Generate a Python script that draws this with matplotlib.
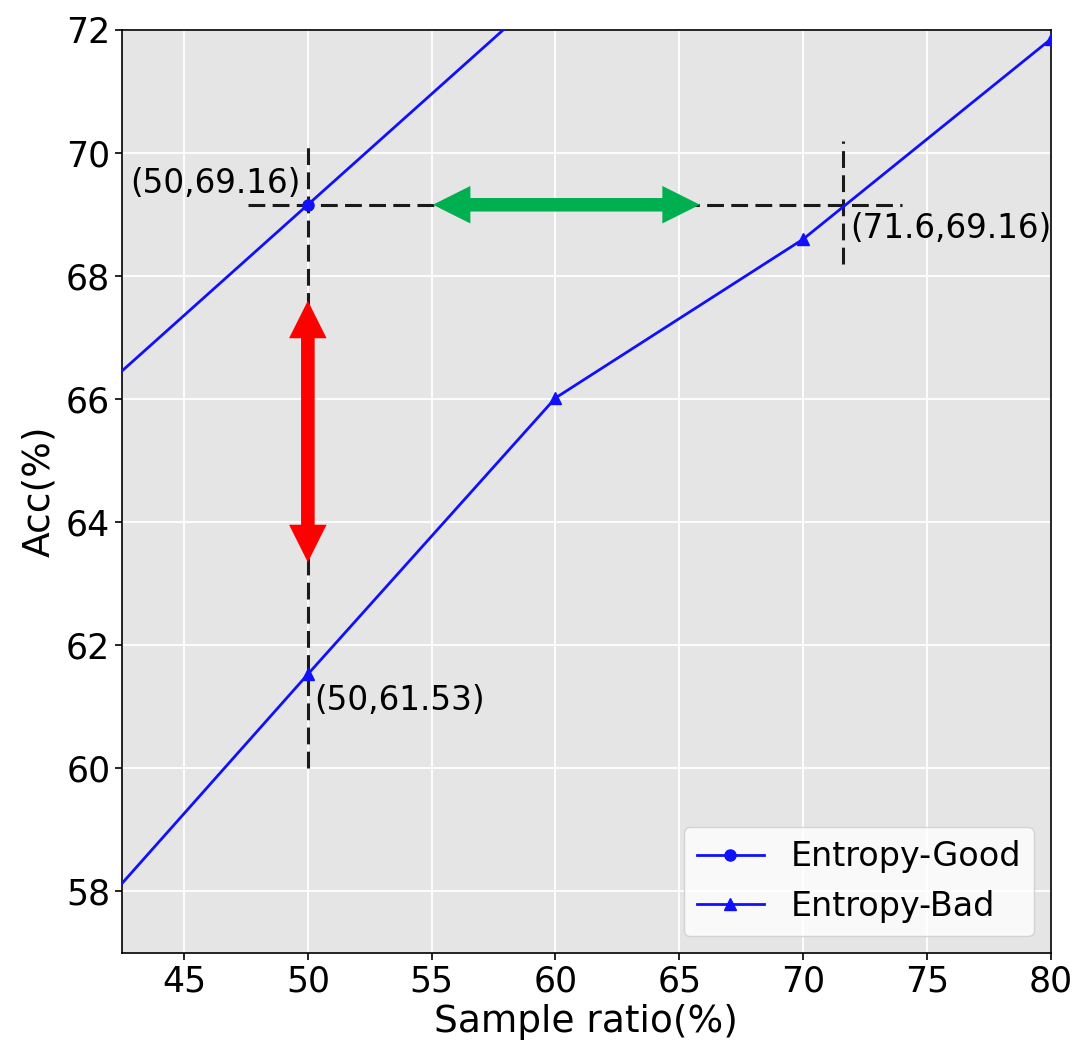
import numpy as np
import matplotlib.pyplot as plt

# data
ratio_good = [40, 50, 60]
acc_good = [65.56, 69.16, 72.76]
ratio_bad = [40, 50, 60, 70, 80]
acc_bad = [57.0, 61.53, 66.02, 68.6, 71.85]

xticks = [45, 50, 55, 60, 65, 70, 75, 80]
yticks = [58, 60, 62, 64, 66, 68, 70, 72]

fig = plt.figure(figsize=(10.9, 10.62), dpi=100)
ax = fig.add_axes([0.112, 0.1026, 0.852, 0.8692])
ax.set_facecolor('#E5E5E5')
ax.grid(True, color='white', linewidth=1.3)
ax.set_axisbelow(True)
for s in ax.spines.values():
    s.set_color('black')
    s.set_linewidth(1.2)
ax.set_xlim(42.5, 80)
ax.set_ylim(57, 72)

# dashed guide lines
dash = dict(color='#1a1a1a', linewidth=2.2, dashes=(5.5, 2.4), zorder=2)
ax.plot([47.6, 74.0], [69.16, 69.16], **dash)
ax.plot([50, 50], [60.0, 70.2], **dash)
ax.plot([71.6, 71.6], [68.2, 70.2], **dash)

ax.plot(ratio_good, acc_good, color='#1010ff', marker='o', markersize=8, linewidth=2, label='Entropy-Good', zorder=3)
ax.plot(ratio_bad, acc_bad, color='#1010ff', marker='^', markersize=8, linewidth=2, label='Entropy-Bad', zorder=3)

# double arrows: two arrows pointing opposite ways; each tail starts
# inside the other arrow's head so the shafts overlap over their whole length
HEAD = 27  # points

def double_arrow(p0, p1, color):
    d0 = ax.transData.transform(p0)
    d1 = ax.transData.transform(p1)
    u = (d1 - d0) / np.hypot(*(d1 - d0))
    off = 0.7 * HEAD * fig.dpi / 72
    for a, b, sgn in ((d0, p1, 1), (d1, p0, -1)):
        start = ax.transData.inverted().transform(a + sgn * off * u)
        ax.annotate('', xy=b, xytext=tuple(start),
                    arrowprops=dict(color=color, width=9.5, headwidth=HEAD, headlength=HEAD, linewidth=0))

double_arrow((50, 63.35), (50, 67.6), 'red')
double_arrow((55.05, 69.16), (65.83, 69.16), '#00B050')

ax.text(42.85, 69.5, '(50,69.16)', fontsize=23.5, va='center', ha='left')
ax.text(71.9, 68.78, '(71.6,69.16)', fontsize=23.5, va='center', ha='left')
ax.text(50.25, 61.1, '(50,61.53)', fontsize=23.5, va='center', ha='left')

ax.set_xticks(xticks)
ax.set_yticks(yticks)
ax.tick_params(axis='both', labelsize=25, length=5, width=1.2, colors='black')
ax.set_xlabel('Sample ratio(%)', fontsize=27, labelpad=4)
ax.set_ylabel('Acc(%)', fontsize=27, labelpad=6)

ax.legend(loc='lower right', fontsize=24)

fig.savefig('out.png', dpi=100)
